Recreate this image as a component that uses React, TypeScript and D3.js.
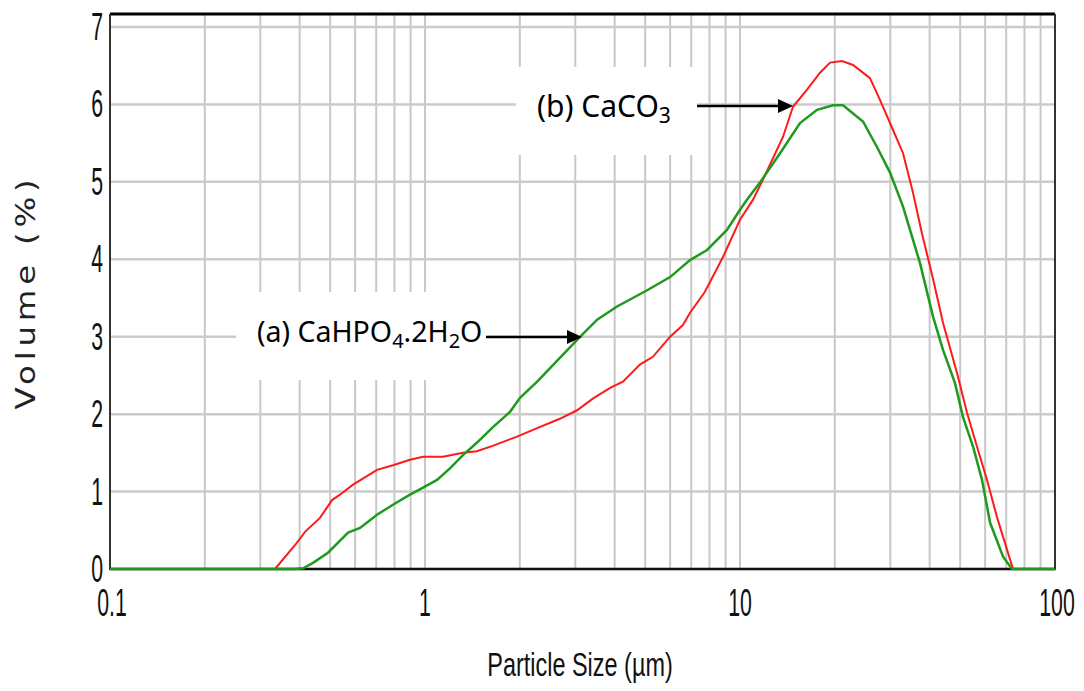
import React from "react";
import * as d3 from "d3";

// ---- data ----
const redSize = [0.334,0.387,0.416,0.464,0.507,0.537,0.591,0.704,0.791,0.896,0.986,1.14,1.32,1.46,1.64,1.96,2.27,2.68,3.04,3.41,3.87,4.25,4.81,5.29,6.0,6.59,6.94,7.74,8.83,10.0,11.0,11.83,13.69,14.73,16.32,17.95,19.31,21.08,22.85,25.86,27.82,30.6,32.93,35.42,37.83,41.0,44.1,48.86,52.55,56.56,60.84,65.44,70.41,73.57];
const redVol = [0,0.31,0.48,0.66,0.89,0.96,1.09,1.28,1.34,1.41,1.45,1.45,1.5,1.52,1.59,1.71,1.82,1.94,2.05,2.2,2.34,2.42,2.64,2.74,3.0,3.15,3.31,3.58,4.03,4.51,4.77,5.03,5.58,5.97,6.19,6.41,6.54,6.56,6.51,6.34,6.06,5.67,5.37,4.86,4.33,3.75,3.18,2.53,2.02,1.58,1.15,0.67,0.25,0];

const greenSize = [0.1,0.387,0.41,0.441,0.492,0.57,0.622,0.704,0.791,0.896,0.986,1.092,1.2,1.32,1.46,1.64,1.862,2.003,2.27,3.11,3.52,4.07,4.57,5.07,6.0,6.94,7.86,9.09,10.0,10.52,11.57,13.4,15.51,17.56,19.74,21.23,24.57,27.22,29.94,32.93,35.42,37.28,41.0,44.1,48.14,51.05,54.94,58.66,62.2,68.41,73.04,100];
const greenVol = [0,0,0.01,0.08,0.21,0.47,0.53,0.7,0.83,0.96,1.05,1.15,1.3,1.47,1.63,1.83,2.03,2.21,2.42,3.0,3.22,3.39,3.5,3.6,3.77,3.99,4.12,4.38,4.64,4.77,4.99,5.37,5.76,5.93,5.99,5.99,5.78,5.45,5.12,4.68,4.25,3.95,3.26,2.83,2.4,1.96,1.58,1.15,0.6,0.16,0,0];

const xTickLabels = ["0.1", "1", "10", "100"];
const xTickValues = [0.1, 1, 10, 100];
const yTickValues = [0, 1, 2, 3, 4, 5, 6, 7];

const W = 1084, H = 691;
const L = 110, R = 1055, B = 569, T7 = 27, TOP = 14;

export default function App() {
  const x = d3.scaleLog().domain([0.1, 100]).range([L, R]);
  const y = d3.scaleLinear().domain([0, 7]).range([B, T7]);

  const minor: number[] = [];
  [0.1, 1, 10].forEach((d) => {
    for (let k = 1; k <= 9; k++) minor.push(d * k);
  });
  minor.push(100);

  const line = d3
    .line<[number, number]>()
    .x((d) => x(d[0]))
    .y((d) => y(d[1]));

  const redPts = redSize.map((s, i) => [s, redVol[i]] as [number, number]);
  const greenPts = greenSize.map((s, i) => [s, greenVol[i]] as [number, number]);

  const tickFont = "'Liberation Sans', Arial, sans-serif";
  const labelFont = "'Noto Sans', 'DejaVu Sans', sans-serif";

  return (
    <svg width={W} height={H} style={{ position: "absolute", left: 0, top: 0, background: "#fff" }}>
      {/* vertical gridlines */}
      {minor.map((v, i) => (
        <line key={"v" + i} x1={x(v)} x2={x(v)} y1={TOP} y2={B} stroke="#c8c8c8" strokeWidth={2} />
      ))}
      {/* horizontal gridlines */}
      {yTickValues.map((v) => (
        <line key={"h" + v} x1={L} x2={R} y1={y(v)} y2={y(v)} stroke="#cbcbcb" strokeWidth={2.5} />
      ))}
      {/* white label boxes */}
      <rect x={516} y={67} width={181} height={88} fill="#fff" />
      <rect x={236} y={292} width={252} height={88} fill="#fff" />

      {/* frame */}
      <line x1={L} x2={R} y1={TOP} y2={TOP} stroke="#000" strokeWidth={3} />
      <line x1={L} x2={L} y1={TOP} y2={B + 1} stroke="#333" strokeWidth={2} />
      <line x1={R} x2={R} y1={TOP} y2={B + 1} stroke="#333" strokeWidth={2} />
      <line x1={L} x2={R} y1={B} y2={B} stroke="#111" strokeWidth={2.5} />

      {/* curves */}
      <path d={line(redPts) || ""} fill="none" stroke="#ff1a1a" strokeWidth={2} />
      <path d={line(greenPts) || ""} fill="none" stroke="#1e9a1e" strokeWidth={2.5} />

      {/* y tick labels */}
      {yTickValues.map((v) => (
        <text
          key={"yt" + v}
          transform={`translate(103,${y(v)}) scale(0.56,1)`}
          textAnchor="end"
          dominantBaseline="central"
          fontFamily={tickFont}
          fontSize={38}
          fill="#111"
        >
          {v}
        </text>
      ))}
      {/* x tick labels */}
      {xTickValues.map((v, i) => (
        <text
          key={"xt" + v}
          transform={`translate(${x(v) + (i === 0 ? 2 : i === 3 ? 2 : 0)},616) scale(0.56,1)`}
          textAnchor="middle"
          fontFamily={tickFont}
          fontSize={38}
          fill="#111"
        >
          {xTickLabels[i]}
        </text>
      ))}

      {/* axis titles */}
      <text
        transform={`translate(580,676) scale(0.69,1)`}
        textAnchor="middle"
        fontFamily={tickFont}
        fontSize={34}
        fill="#111"
      >
        Particle Size (µm)
      </text>
      <text
        transform={`translate(35,${290 + 2}) rotate(-90) scale(1.2,1)`}
        textAnchor="middle"
        fontFamily="'DejaVu Sans', Verdana, sans-serif"
        fontSize={27}
        letterSpacing={4}
        fill="#222"
      >
        Volume (%)
      </text>

      {/* annotations */}
      <text x={537} y={117} fontFamily={labelFont} fontSize={30} fill="#000">
        (b) CaCO
        <tspan fontSize={21} dy={6}>3</tspan>
      </text>
      <line x1={697} x2={780} y1={106} y2={106} stroke="#000" strokeWidth={2.5} />
      <path d="M778,99 L793,106 L778,113 Z" fill="#000" />

      <text x={257} y={342} fontFamily={labelFont} fontSize={28.5} fill="#000">
        (a) CaHPO
        <tspan fontSize={20} dy={6}>4</tspan>
        <tspan dy={-6}>.2H</tspan>
        <tspan fontSize={20} dy={6}>2</tspan>
        <tspan dy={-6}>O</tspan>
      </text>
      <line x1={486} x2={569} y1={337} y2={337} stroke="#000" strokeWidth={2.5} />
      <path d="M567,330 L582,337 L567,344 Z" fill="#000" />
    </svg>
  );
}
